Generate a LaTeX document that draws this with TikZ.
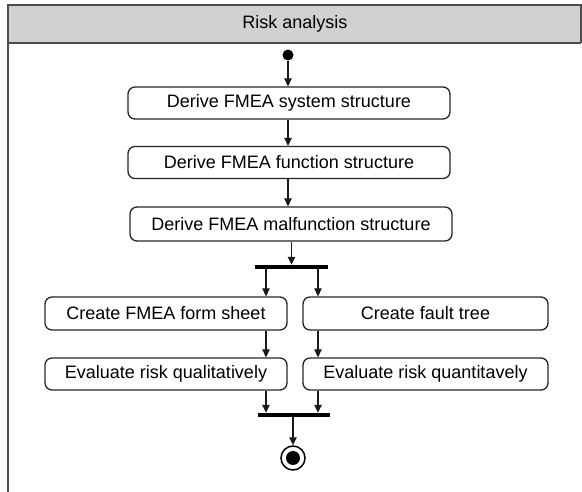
\documentclass[tikz,border=0pt]{standalone}
\usepackage{fontspec}
\setmainfont{Liberation Sans}
\usetikzlibrary{arrows.meta}
\begin{document}
\begin{tikzpicture}[x=1pt,y=-1pt,
  framecol/.style={draw=black!70,line width=1.6pt},
  action/.style={draw=black!85,line width=1.3pt,rounded corners=7pt,
    minimum height=32pt,inner sep=0pt,font=\fontsize{18}{21}\selectfont},
  bar/.style={fill=black,inner sep=0pt,minimum height=4pt},
  flow/.style={draw=black!90,line width=1.3pt,-{Triangle[length=8pt,width=7.5pt]}}]
\useasboundingbox (0,0) rectangle (582,492);
% swimlane frame with header
\fill[black!18] (8,5) rectangle (581,43);
\draw[framecol] (8,492) -- (8,5) -- (581,5) -- (581,43);
\draw[framecol] (8,43) -- (581,43);
\node[font=\fontsize{18}{21}\selectfont] (title) at (295,24) {Risk analysis};

% reference columns for the parallel branches
\coordinate (xl) at (266,0);
\coordinate (xr) at (318,0);

% initial node
\node[circle,fill=black,inner sep=0pt,minimum size=11pt] (start) at (288,55) {};

% sequential actions
\node[action,minimum width=322pt] (sys) at (289,103) {Derive FMEA system structure};
\node[action,minimum width=322pt] (fun) at (289,162.5) {Derive FMEA function structure};
\node[action,minimum width=322pt,minimum height=34pt] (mal) at (291,224) {Derive FMEA malfunction structure};

% fork
\node[bar,minimum width=73pt] (fork) at (291.5,267) {};

% parallel actions
\node[action,minimum width=242pt,minimum height=33pt] (form) at (166,313.5) {Create FMEA form sheet};
\node[action,minimum width=245pt,minimum height=33pt] (tree) at (425.5,313.5) {Create fault tree};
\node[action,minimum width=242pt] (qual) at (166,374) {Evaluate risk qualitatively};
\node[action,minimum width=245pt] (quant) at (425.5,374) {Evaluate risk quantitavely};

% join
\node[bar,minimum width=72pt] (join) at (294,415) {};

% final node
\node[circle,draw=black,line width=1.5pt,minimum size=24pt,inner sep=0pt] (final) at (293,458) {};
\fill[black] (final.center) circle (7pt);

% control flows
\draw[flow] (start) -- (start |- sys.north);
\draw[flow] (sys.south -| start) -- (fun.north -| start);
\draw[flow] (fun.south -| start) -- (mal.north -| start);
\draw[flow] (mal.south -| fork) -- (fork.north);
\draw[flow] (fork.south -| xl) -- (form.north -| xl);
\draw[flow] (fork.south -| xr) -- (tree.north -| xr);
\draw[flow] (form.south -| xl) -- (qual.north -| xl);
\draw[flow] (tree.south -| xr) -- (quant.north -| xr);
\draw[flow] (qual.south -| xl) -- (join.north -| xl);
\draw[flow] (quant.south -| xr) -- (join.north -| xr);
\draw[flow] (join.south -| final) -- (final.north);
\end{tikzpicture}
\end{document}
